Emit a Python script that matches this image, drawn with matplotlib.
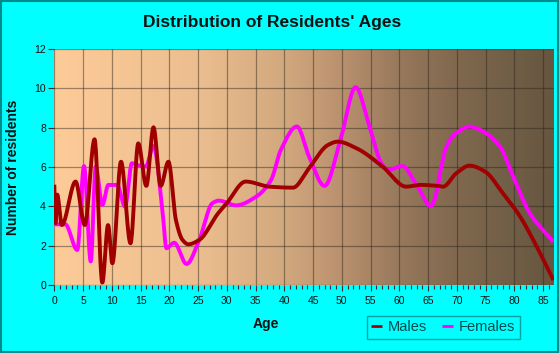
import numpy as np
import matplotlib
matplotlib.use('Agg')
import matplotlib.pyplot as plt
from matplotlib.colors import LinearSegmentedColormap
from matplotlib.patches import Rectangle

plt.rcParams['font.family'] = ['Liberation Sans', 'DejaVu Sans']

# ==== data (age, residents) ====
male_age = [0, 0.2, 0.5, 1.3, 3.7, 5.3, 7.0, 8.35, 9.35, 10.1, 11.6, 13.25, 14.6,
            16.0, 17.25, 18.5, 19.85, 21.15, 22.3, 23.3, 25.2, 28.5, 29.9, 33.3,
            37.4, 41.5, 44.3, 47.6, 49.3, 52.5, 57.1, 61.2, 63.6, 66.7, 67.6,
            69.9, 72.2, 74.9, 78.0, 81.0, 83.9, 86.8]
male_val = [5.1, 3.1, 4.6, 3.05, 5.26, 3.05, 7.41, 0.12, 3.05, 1.1, 6.27, 2.12, 7.2,
            5.04, 8.02, 5.04, 6.27, 3.3, 2.29, 2.07, 2.29, 3.65, 4.12, 5.26,
            5.0, 4.95, 5.94, 7.12, 7.29, 6.96, 6.02, 5.0, 5.09, 5.04, 5.0,
            5.68, 6.07, 5.77, 4.67, 3.48, 1.95, 0.25]

female_age = [0, 1.9, 4.0, 5.17, 6.34, 7.2, 8.36, 9.4, 10.9, 12.3, 13.5, 14.5,
              15.9, 17.25, 18.8, 19.5, 20.85, 23.0, 25.2, 27.5, 28.6, 31.6, 35.1,
              37.7, 39.4, 42.2, 44.3, 47.0, 49.9, 52.4, 54.8, 56.9, 58.0, 60.5,
              63.0, 65.5, 66.1, 67.3, 68.2, 69.9, 72.2, 74.6, 77.5, 79.8, 82.7, 86.8]
female_val = [3.09, 3.09, 1.78, 6.05, 1.19, 6.02, 4.07, 5.09, 5.09, 3.99, 6.19, 6.1,
              6.02, 7.07, 3.82, 1.87, 2.15, 1.07, 2.29, 4.16, 4.29, 4.05, 4.49,
              5.34, 6.87, 8.06, 6.53, 5.04, 7.55, 10.06, 8.06, 6.19, 5.85, 6.05,
              5.09, 4.02, 4.33, 6.02, 7.04, 7.72, 8.06, 7.8, 7.04, 5.51, 3.65, 2.2]

x_ticks = list(range(0, 90, 5))
y_ticks = list(range(0, 14, 2))


def smooth(xs, ys, n=1500):
    # monotone cubic (pchip) through the read points, keeps the peaks in place
    x = np.asarray(xs, float)
    y = np.asarray(ys, float)
    h = np.diff(x)
    d = np.diff(y) / h
    m = np.zeros_like(y)
    for k in range(1, len(x) - 1):
        if d[k - 1] * d[k] > 0:
            w1 = 2 * h[k] + h[k - 1]
            w2 = h[k] + 2 * h[k - 1]
            m[k] = (w1 + w2) / (w1 / d[k - 1] + w2 / d[k])
    m[0] = d[0]
    m[-1] = d[-1]
    xx = np.linspace(x[0], x[-1], n)
    i = np.clip(np.searchsorted(x, xx) - 1, 0, len(x) - 2)
    t = (xx - x[i]) / h[i]
    h00 = 2 * t**3 - 3 * t**2 + 1
    h10 = t**3 - 2 * t**2 + t
    h01 = -2 * t**3 + 3 * t**2
    h11 = t**3 - t**2
    yy = h00 * y[i] + h10 * h[i] * m[i] + h01 * y[i + 1] + h11 * h[i] * m[i + 1]
    return xx, yy


W, H = 560, 353
fig = plt.figure(figsize=(W / 100, H / 100), dpi=100, facecolor='#00ffff')
fig.patches.append(Rectangle((0.002, 0.003), 0.995, 0.994, transform=fig.transFigure,
                             fill=False, edgecolor='#008b8b', lw=1.5))
ax = fig.add_axes([54.3 / W, 1 - 285 / H, (554 - 54.3) / W, (285 - 49) / H])

xmax = 86.9
cmap = LinearSegmentedColormap.from_list('bg', [
    (0.0, '#fdcb98'), (25 / xmax, '#ecbe8f'), (40 / xmax, '#d2a87e'),
    (50 / xmax, '#b9916e'), (60 / xmax, '#98795c'), (70 / xmax, '#80684e'),
    (80 / xmax, '#705e46'), (1.0, '#675640')])
grad = np.linspace(0, 1, 400).reshape(1, -1)
ax.imshow(grad, extent=[0, xmax, 0, 12], aspect='auto', cmap=cmap, zorder=0)

ax.set_xlim(0, xmax)
ax.set_ylim(0, 12)
ax.set_xticks(x_ticks)
ax.set_xticks(range(0, 87), minor=True)
ax.set_yticks(y_ticks)
ax.grid(True, which='major', color='#2a2218', alpha=0.45, lw=0.9, zorder=1)
ax.set_axisbelow(False)

mx, my = smooth(male_age, male_val)
fx, fy = smooth(female_age, female_val)
ax.plot(fx, fy, color='#ff00ff', lw=2.8, label='Females', zorder=3, solid_capstyle='butt')
ax.plot(mx, my, color='#a00000', lw=2.8, label='Males', zorder=4, solid_capstyle='butt')

for s in ax.spines.values():
    s.set_visible(False)
ax.tick_params(axis='both', which='both', colors='#333333', labelsize=7.5,
               labelcolor='#111111', width=0.8)
ax.tick_params(axis='x', which='major', length=4, pad=4)
ax.tick_params(axis='x', which='minor', length=3)
ax.tick_params(axis='y', length=4, pad=2)

fig.text(272 / W, 1 - 23 / H, "Distribution of Residents' Ages", fontsize=12.5,
         fontweight='bold', ha='center', va='center', color='#111111')
fig.text(266 / W, 1 - 324 / H, 'Age', fontsize=10, fontweight='bold',
         ha='center', va='center', color='#111111')
fig.text(13 / W, 1 - 167 / H, 'Number of residents', fontsize=10, fontweight='bold',
         rotation=90, ha='center', va='center', color='#111111')

h, l = ax.get_legend_handles_labels()
leg = fig.legend(h[::-1], l[::-1], loc='upper left',
                 bbox_to_anchor=(367 / W, 1 - 316 / H), bbox_transform=fig.transFigure,
                 ncol=2, frameon=True, fancybox=False, fontsize=10.5,
                 handlelength=0.75, handletextpad=0.4, columnspacing=1.0,
                 borderpad=0.3, borderaxespad=0, edgecolor='#008b8b', facecolor='#00ffff')
leg.get_frame().set_linewidth(1.0)
for t in leg.get_texts():
    t.set_color('#004c4c')
for ln in leg.get_lines():
    ln.set_linewidth(2)

fig.savefig('out.png', dpi=100, facecolor=fig.get_facecolor())
